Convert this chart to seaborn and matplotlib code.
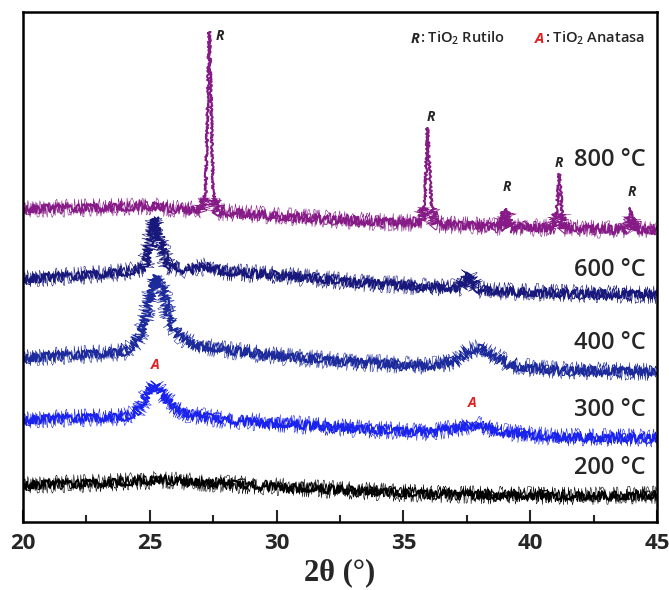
import numpy as np
import pandas as pd
import matplotlib
matplotlib.use("Agg")
import matplotlib.pyplot as plt
from matplotlib.patches import Polygon
import seaborn as sns

# XRD patterns of TiO2 calcined at different temperatures (intensity in a.u., stacked)
tt_800 = [20.0, 22.0, 24.0, 25.0, 26.0, 27.0, 27.2, 27.35, 27.5, 27.65, 28.0, 30.0, 32.0, 34.0,
          35.7, 35.85, 35.95, 36.1, 36.25, 37.0, 38.9, 39.05, 39.2, 41.0, 41.15, 41.3, 43.8, 43.95,
          44.1, 45.0]
int_800 = [313, 314, 315, 316, 313, 312, 330, 490, 330, 310, 310, 306, 303, 300,
           299, 320, 394, 320, 298, 297, 295, 313, 295, 294, 348, 294, 292, 314,
           292, 292]

tt_600 = [20.0, 22.0, 24.0, 24.8, 25.0, 25.2, 25.4, 25.7, 26.5, 27.3, 28.0, 30.0, 33.0, 36.0,
          37.3, 37.6, 37.9, 38.5, 41.0, 45.0]
int_600 = [243, 246, 250, 254, 280, 305, 280, 256, 252, 256, 250, 247, 240, 235,
           234, 248, 233, 231, 229, 227]

tt_400 = [20.0, 22.0, 24.0, 24.5, 24.8, 25.05, 25.25, 25.5, 25.8, 26.2, 26.8, 28.0, 30.0, 33.0,
          36.0, 37.0, 37.6, 38.0, 38.6, 39.3, 41.0, 45.0]
int_400 = [164, 167, 170, 180, 200, 232, 246, 232, 200, 185, 177, 172, 166, 160,
           156, 160, 172, 174, 166, 156, 152, 150]

tt_300 = [20.0, 22.0, 24.0, 24.5, 24.9, 25.2, 25.5, 26.0, 26.6, 28.0, 31.0, 34.0, 36.0,
          37.2, 37.8, 38.8, 41.0, 45.0]
int_300 = [102, 104, 105, 110, 128, 138, 128, 114, 107, 102, 97, 92, 90,
           94, 98, 90, 85, 84]

tt_200 = [20.0, 23.0, 25.5, 28.0, 31.0, 35.0, 38.0, 42.0, 45.0]
int_200 = [37, 39, 42, 38, 34, 29, 27, 26, 27]

temps = ["200 °C", "300 °C", "400 °C", "600 °C", "800 °C"]
colors = ["#000000", "#1a22ee", "#1c2a9c", "#18187c", "#861a86"]
label_y = [54, 112, 179, 252, 362]

rutile_lbl = [(27.75, 486), (36.1, 405), (39.1, 335), (41.15, 359), (44.0, 330)]
anatase_lbl = [(25.2, 157), (37.7, 119)]

frames = []
for name, tt, inten in zip(temps,
                           [tt_200, tt_300, tt_400, tt_600, tt_800],
                           [int_200, int_300, int_400, int_600, int_800]):
    frames.append(pd.DataFrame({"two_theta": tt, "intensity": inten, "sample": name}))
df = pd.concat(frames, ignore_index=True)

sns.set_theme(style="ticks")
plt.rcParams["font.family"] = ["Open Sans", "DejaVu Sans"]
plt.rcParams["mathtext.fontset"] = "custom"
plt.rcParams["mathtext.rm"] = "Open Sans:semibold"
plt.rcParams["mathtext.it"] = "Open Sans:italic"
plt.rcParams["mathtext.bf"] = "Open Sans:bold"

fig = plt.figure(figsize=(6.69, 5.90), dpi=100)
ax = fig.add_axes([0.0344, 0.1153, 0.9476, 0.8644])

# counting noise is rendered as several jittered strokes of the same pattern
strokes = [((9, 0.41, 1.7), 0.4), ((6, 0.37, 1.5), 0.75), ((4, 0.3, 1.3), 1.4)]


def draw_stroke(sub, col, lw, sketch, clip=None):
    n0 = len(ax.lines)
    sns.lineplot(data=sub, x="two_theta", y="intensity", ax=ax, color=col,
                 lw=lw, estimator=None, sort=False)
    for ln in ax.lines[n0:]:
        ln.set_sketch_params(*sketch)
        if clip is not None:
            ln.set_clip_path(Polygon(clip, closed=True, transform=ax.transData))


for name, col in zip(temps, colors):
    sub = df[df["sample"] == name]
    if name == "800 °C":
        # sharp rutile reflections: noisy background band, lightly jittered peak tops
        b0, b1 = int_800[0] + 12, int_800[-1] + 12
        band = [(20, -10), (20, b0), (26.5, b0), (45, b1), (45, -10)]
        for sk, lw in strokes:
            draw_stroke(sub, col, lw, sk, clip=band)
        tops = [(20, b0 - 7), (20, 600), (45, 600), (45, b1 - 7), (26.5, b0 - 7)]
        draw_stroke(sub, col, 1.5, (1.2, 0.3, 1.3), clip=tops)
    else:
        for sk, lw in strokes:
            draw_stroke(sub, col, lw, sk)

ax.set_xlim(20, 45)
ax.set_ylim(0, 510)
ax.set_yticks([])
ax.set_ylabel("")
ax.set_xticks([20, 25, 30, 35, 40, 45])
ax.set_xticks([22.5, 27.5, 32.5, 37.5, 42.5], minor=True)
ax.tick_params(axis="x", which="major", direction="in", length=9, width=1.5, pad=8)
ax.tick_params(axis="x", which="minor", direction="in", length=5, width=1.5)
for lab in ax.get_xticklabels():
    lab.set_fontsize(16)
    lab.set_fontweight("bold")
for sp in ax.spines.values():
    sp.set_linewidth(1.8)
    sp.set_color("black")

ax.set_xlabel("2θ (°)", family=["Liberation Serif", "DejaVu Serif"], fontsize=22,
              fontweight="bold", labelpad=3)

for name, y in zip(temps, label_y):
    ax.text(44.55, y, name, ha="right", va="center", fontsize=17, fontweight="semibold")

for x, y in rutile_lbl:
    ax.text(x, y, "R", ha="center", va="center", fontsize=10, fontweight="bold",
            fontstyle="italic")
for x, y in anatase_lbl:
    ax.text(x, y, "A", ha="center", va="center", fontsize=10, fontweight="bold",
            fontstyle="italic", color="#e02020")

# phase key
ky = 0.94
kw = dict(transform=ax.transAxes, va="baseline", fontsize=10.5)
ax.text(0.612, ky, "R", fontweight="bold", fontstyle="italic", **kw)
ax.text(0.627, ky, ": TiO$_2$ Rutilo", fontweight="semibold", **kw)
ax.text(0.808, ky, "A", fontweight="bold", fontstyle="italic", color="#e02020", **kw)
ax.text(0.824, ky, ": TiO$_2$ Anatasa", fontweight="semibold", **kw)

fig.savefig("out.png", dpi=100)
